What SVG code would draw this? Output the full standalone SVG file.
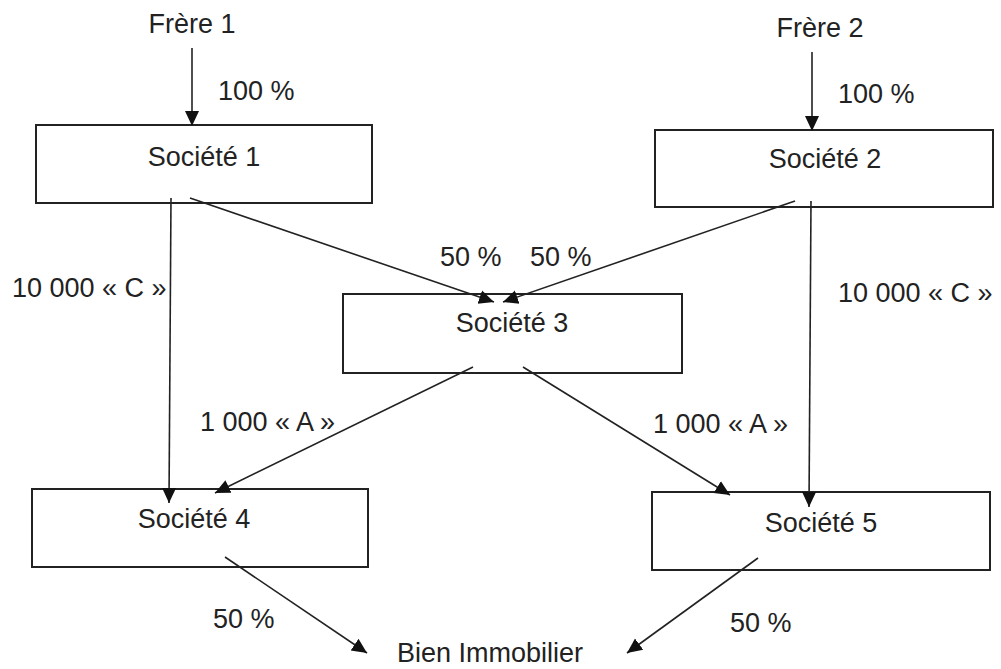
<svg xmlns="http://www.w3.org/2000/svg" width="1001" height="669" viewBox="0 0 1001 669">
<style>
text{font-family:"Liberation Sans",Arial,sans-serif;font-size:27px;fill:#222}
.box{fill:#fff;stroke:#222;stroke-width:2}
.c{text-anchor:middle}
.edge{stroke:#222;stroke-width:1.6;fill:none;marker-end:url(#ah)}
</style>
<defs>
<marker id="ah" markerUnits="userSpaceOnUse" markerWidth="16" markerHeight="16" viewBox="0 0 16 16" refX="15" refY="8" orient="auto">
<path d="M0,1 L15,8 L0,15 z" fill="#111"/>
</marker>
</defs>
<rect width="1001" height="669" fill="#fff"/>
<g id="frere1"><text class="c" x="192" y="33">Frère 1</text></g>
<g id="frere2"><text class="c" x="820" y="37">Frère 2</text></g>
<g id="societe1"><rect class="box" x="36" y="125" width="336" height="78"/><text class="c" x="204" y="166">Société 1</text></g>
<g id="societe2"><rect class="box" x="655" y="130" width="338" height="77"/><text class="c" x="825" y="168">Société 2</text></g>
<g id="societe3"><rect class="box" x="343" y="294" width="339" height="79"/><text class="c" x="512" y="332">Société 3</text></g>
<g id="societe4"><rect class="box" x="32" y="489" width="336" height="78"/><text class="c" x="194" y="528">Société 4</text></g>
<g id="societe5"><rect class="box" x="652" y="492" width="338" height="78"/><text class="c" x="821" y="532">Société 5</text></g>
<g id="bien"><text x="397" y="662">Bien Immobilier</text></g>
<g id="connectors">
<line class="edge" x1="192" y1="48" x2="192" y2="126"/>
<line class="edge" x1="812" y1="52" x2="812" y2="131"/>
<line class="edge" x1="171" y1="198" x2="169" y2="503"/>
<line class="edge" x1="811" y1="201" x2="809" y2="507"/>
<line class="edge" x1="190" y1="198" x2="494" y2="302"/>
<line class="edge" x1="795" y1="201" x2="503" y2="302"/>
<line class="edge" x1="473" y1="367" x2="215" y2="493"/>
<line class="edge" x1="523" y1="367" x2="730" y2="495"/>
<line class="edge" x1="225" y1="557" x2="367" y2="653"/>
<line class="edge" x1="758" y1="558" x2="627" y2="653"/>
</g>
<g id="labels">
<text x="218" y="100">100 %</text>
<text x="838" y="103">100 %</text>
<text x="440" y="266">50 %</text>
<text x="530" y="266">50 %</text>
<text x="12" y="297">10 000 « C »</text>
<text x="838" y="302">10 000 « C »</text>
<text x="200" y="431">1 000 « A »</text>
<text x="653" y="433">1 000 « A »</text>
<text x="213" y="628">50 %</text>
<text x="730" y="632">50 %</text>
</g>
</svg>
